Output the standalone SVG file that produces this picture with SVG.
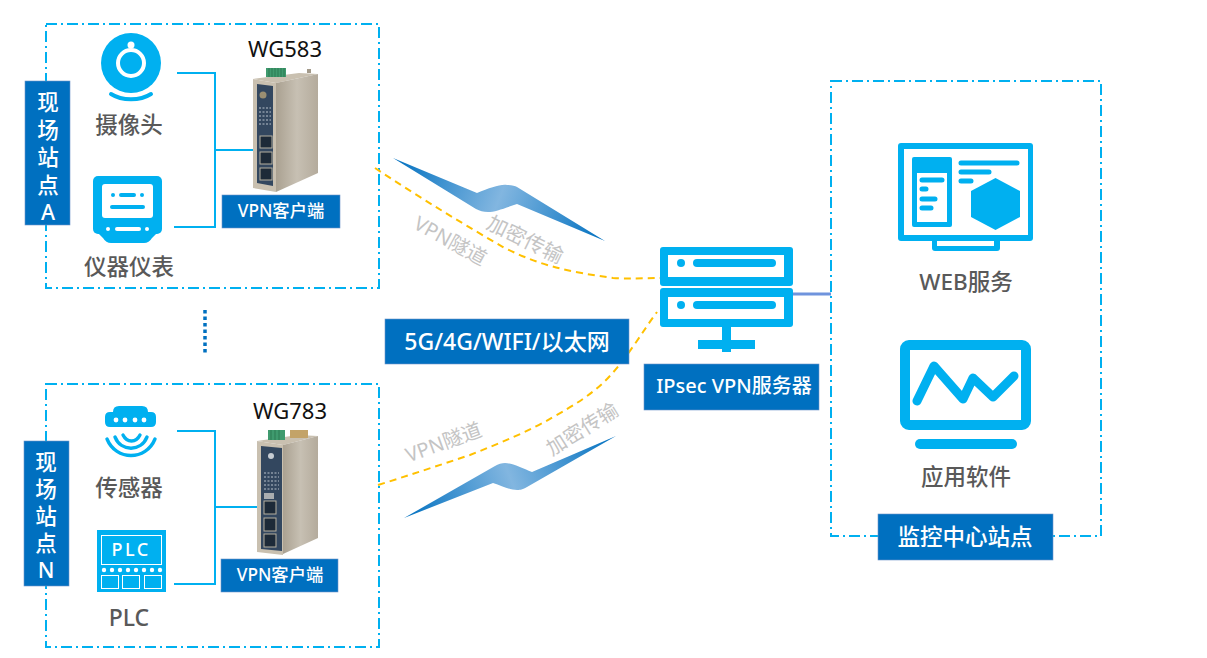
<svg xmlns="http://www.w3.org/2000/svg" width="1207" height="658" viewBox="0 0 1207 658">
<style>
text{font-family:"Noto Sans","Noto Sans CJK SC",sans-serif}
.zone{fill:none;stroke:#00b0f0;stroke-width:2;stroke-dasharray:11 4 2 4}
.label{fill:#0070c0;stroke:#6f94c8;stroke-width:.6}
.w{fill:#fff;text-anchor:middle;font-weight:500}
.g{fill:#595959;text-anchor:middle;font-weight:500}
.k{fill:#111;text-anchor:middle;font-size:22px}
.t{fill:#c4c4c4;text-anchor:middle}
.i{fill:#00b0f0}
.wf{fill:#fff}
.ws{stroke:#fff;fill:none;stroke-linecap:round}
.is{stroke:#00b0f0;fill:none;stroke-linecap:round}
.link{fill:none;stroke:#00b0f0;stroke-width:2}
.tunnel{fill:none;stroke:#ffc000;stroke-width:2;stroke-dasharray:7 5}
.beige{fill:#c9c0b0}
.navy{fill:#33475f}
.port{fill:#1d2a38;stroke:#b6b0a0;stroke-width:1}
.tiny{stroke:#b9c2cc;stroke-width:1;fill:none;stroke-dasharray:2 1.5}
</style>
<defs>
<linearGradient id="bolt1" gradientUnits="userSpaceOnUse" x1="393" y1="158" x2="605" y2="241">
<stop offset="0" stop-color="#0070c0"/><stop offset=".5" stop-color="#82b6e0"/><stop offset="1" stop-color="#0070c0"/>
</linearGradient>
<linearGradient id="bolt2" gradientUnits="userSpaceOnUse" x1="404" y1="518" x2="616" y2="436">
<stop offset="0" stop-color="#0070c0"/><stop offset=".5" stop-color="#82b6e0"/><stop offset="1" stop-color="#0070c0"/>
</linearGradient>
<linearGradient id="side" x1="0" y1="0" x2="1" y2="0">
<stop offset="0" stop-color="#aaa191"/><stop offset=".5" stop-color="#c7c0b3"/><stop offset="1" stop-color="#b4ab9c"/>
</linearGradient>
</defs>

<g id="zones">
<rect class="zone" x="46" y="24" width="333" height="264"/>
<rect class="zone" x="46" y="384" width="333" height="263"/>
<rect class="zone" x="831" y="81" width="270" height="455"/>
</g>

<g id="connectors">
<path class="link" d="M177 73H215V227H174M215 150H253"/>
<path class="link" d="M177 431H215V584H174M215 507H260"/>
<path d="M793 294H831" fill="none" stroke="#6f94dd" stroke-width="3"/>
<path class="tunnel" d="M375 168C420 198 470 228 503 247C540 266 570 272 613 278C630 279 645 278 660 278"/>
<path class="tunnel" d="M378 485C410 475 440 465 470 455C500 443 530 431 553 417C575 405 590 395 603 383C625 362 642 332 657 312"/>
<path d="M205 310V355" fill="none" stroke="#0070c0" stroke-width="3.5" stroke-dasharray="3.5 3"/>
</g>

<g id="bolt-top"><path d="M393 158L477 193C490 188 500 184 507 185C512 185 515 186 517 187L605 241L517 204C505 208 495 212 488 212C483 212 480 211 476 209Z" fill="url(#bolt1)"/></g>
<g id="bolt-bottom"><path d="M404 518L495 466C498 464 502 463 505 463C512 463 522 468 532 472L616 436L527 487C522 490 519 490 517 490C510 490 502 486 493 483Z" fill="url(#bolt2)"/></g>

<g id="site-a-label">
<rect class="label" x="25" y="81" width="45" height="144"/>
<text class="w" font-size="21.500"><tspan x="48" y="110">现</tspan><tspan x="48" y="137.500">场</tspan><tspan x="48" y="165">站</tspan><tspan x="48" y="192.500">点</tspan><tspan x="48" y="220">A</tspan></text>
</g>
<g id="site-n-label">
<rect class="label" x="24" y="441" width="45" height="145"/>
<text class="w" font-size="21.500"><tspan x="46" y="470">现</tspan><tspan x="46" y="497">场</tspan><tspan x="46" y="524">站</tspan><tspan x="46" y="551">点</tspan><tspan x="46" y="578">N</tspan></text>
</g>

<g id="camera">
<circle class="i" cx="131" cy="63" r="30"/>
<circle cx="131" cy="63" r="13" fill="none" stroke="#fff" stroke-width="4"/>
<circle class="wf" cx="131" cy="45" r="3.500"/>
<path class="is" stroke-width="4" d="M111 94C122 101 140 101 151 94"/>
<text class="g" x="129" y="133" font-size="22.500">摄像头</text>
</g>

<g id="meter">
<rect class="i" x="93" y="176" width="69" height="58" rx="5"/>
<path class="i" d="M97 232H158L152 238Q149 243 144 243H111Q106 243 103 238Z"/>
<rect class="wf" x="102" y="184" width="51" height="34" rx="3"/>
<path class="is" stroke-width="4" d="M121 195H134M112 207H143"/>
<circle class="i" cx="113" cy="195" r="2"/><circle class="i" cx="142" cy="195" r="2"/>
<path class="ws" stroke-width="4" d="M117 229H139"/>
<circle class="wf" cx="108" cy="229" r="2"/><circle class="wf" cx="147" cy="229" r="2"/>
<text class="g" x="129" y="275" font-size="22.500">仪器仪表</text>
</g>

<g id="wg583">
<text class="k" x="285" y="57">WG583</text>
<path class="beige" d="M253 79L299 73L318 74L276 83Z"/>
<path d="M276 83L318 74V173L276 192Z" fill="url(#side)"/>
<path class="beige" d="M253 79L276 83V192L253 188Z"/>
<path class="navy" d="M257 84L273 86V186L257 183Z"/>
<rect x="266" y="68" width="20" height="9" fill="#3f9a6e"/>
<path d="M269 68V77M272 68V77M275 68V77M278 68V77M281 68V77M284 68V77" stroke="#2c7a52" stroke-width="1"/>
<rect x="307" y="69" width="4" height="4" fill="#a39a8a"/>
<circle cx="263" cy="95" r="3.500" fill="#9b8f72"/>
<path class="tiny" d="M259 108H271M259 112H271M259 116H271M259 120H271M259 124H271"/>
<rect class="port" x="260" y="136" width="12" height="12"/>
<rect class="port" x="260" y="152" width="12" height="12"/>
<rect class="port" x="260" y="168" width="12" height="12"/>
</g>
<g id="wg583-label">
<rect class="label" x="222" y="195" width="118" height="33"/>
<text class="w" x="281" y="217" font-size="17.300">VPN客户端</text>
</g>

<g id="sensor">
<path class="i" d="M113 412Q113 406 119 406H142Q148 406 148 412H151Q156 412 156 417V422Q156 427 151 427H110Q105 427 105 422V417Q105 412 110 412Z"/>
<g class="wf"><circle cx="116" cy="420" r="2.400"/><circle cx="125" cy="420" r="2.400"/><circle cx="135" cy="420" r="2.400"/><circle cx="144" cy="420" r="2.400"/></g>
<path class="is" stroke-width="3.400" d="M107 439C116 461 146 461 155 439M115 437C121 452 141 452 147 437M123 435C127 443 136 443 140 435"/>
<text class="g" x="129" y="496" font-size="22.500">传感器</text>
</g>

<g id="plc">
<rect class="i" x="97" y="530" width="69" height="62"/>
<rect x="101.500" y="535.500" width="60" height="29" fill="none" stroke="#fff" stroke-width="1"/>
<text x="131" y="556" fill="#fff" font-size="18" text-anchor="middle" letter-spacing="2.500" font-weight="500">PLC</text>
<g class="wf"><circle cx="104" cy="570" r="2.200"/><circle cx="112" cy="570" r="2.200"/><circle cx="120" cy="570" r="2.200"/><circle cx="128" cy="570" r="2.200"/><circle cx="136" cy="570" r="2.200"/><circle cx="144" cy="570" r="2.200"/><circle cx="152" cy="570" r="2.200"/><circle cx="160" cy="570" r="2.200"/></g>
<g fill="none" stroke="#fff" stroke-width="1"><rect x="101.500" y="575.500" width="17" height="13"/><rect x="122.500" y="575.500" width="17" height="13"/><rect x="144.500" y="575.500" width="17" height="13"/></g>
<text class="g" x="129" y="626" font-size="23">PLC</text>
</g>

<g id="wg783">
<text class="k" x="290" y="419">WG783</text>
<path class="beige" d="M257 441L298 435L318 436L283 445Z"/>
<path d="M283 445L318 436V538L283 554Z" fill="url(#side)"/>
<path class="beige" d="M257 441L283 445V555L257 552Z"/>
<path class="navy" d="M261 446L282 448V551L261 549Z"/>
<rect x="268" y="430" width="17" height="10" fill="#3f9a6e"/>
<path d="M271 430V440M275 430V440M279 430V440" stroke="#2c7a52" stroke-width="1"/>
<rect x="290" y="430" width="18" height="8" fill="#c3a368"/>
<circle cx="271" cy="456" r="3" fill="#c6ccd3"/>
<path class="tiny" d="M264 473H279M264 477H279M264 481H279M264 485H279M264 489H279"/>
<rect x="264" y="493" width="10" height="6" fill="#a9adb0"/>
<rect class="port" x="264" y="501" width="12" height="13"/>
<rect class="port" x="264" y="518" width="12" height="13"/>
<rect class="port" x="264" y="534" width="12" height="13"/>
</g>
<g id="wg783-label">
<rect class="label" x="221" y="559" width="117" height="33"/>
<text class="w" x="280" y="581" font-size="17.300">VPN客户端</text>
</g>

<g id="tunnel-labels">
<text class="t" font-size="20" transform="translate(447 247) rotate(29)">VPN隧道</text>
<text class="t" font-size="20.500" transform="translate(522 246) rotate(26)">加密传输</text>
<text class="t" font-size="20" transform="translate(446 449) rotate(-20)">VPN隧道</text>
<text class="t" font-size="20" transform="translate(586 435) rotate(-32)">加密传输</text>
</g>

<g id="network-label">
<rect class="label" x="385" y="319" width="244" height="45"/>
<text class="w" x="507" y="350" font-size="23">5G/4G/WIFI/以太网</text>
</g>

<g id="vpn-server">
<rect class="i" x="660" y="247" width="133" height="39" rx="3"/>
<rect class="i" x="660" y="288" width="133" height="39" rx="3"/>
<rect class="wf" x="668" y="255" width="116" height="22"/>
<rect class="wf" x="668" y="297" width="116" height="22"/>
<circle class="i" cx="681" cy="263" r="4"/><circle class="i" cx="681" cy="305" r="4"/>
<rect class="i" x="693" y="259" width="83" height="8" rx="4"/>
<rect class="i" x="693" y="301" width="83" height="8" rx="4"/>
<rect class="i" x="722" y="327" width="9" height="25"/>
<rect class="i" x="698" y="340" width="57" height="9"/>
<rect class="label" x="644" y="364" width="175" height="46"/>
<text class="w" x="734" y="393" font-size="20">IPsec VPN服务器</text>
</g>

<g id="web-service">
<rect class="i" x="898" y="143" width="135" height="98" rx="3"/>
<rect class="wf" x="904" y="149" width="124" height="86"/>
<path class="i" d="M932 241H1000V248Q1000 251 997 251H935Q932 251 932 248Z"/>
<rect class="wf" x="937" y="241" width="57" height="5"/>
<rect class="i" x="912" y="157" width="40" height="70" rx="2"/>
<rect class="wf" x="917" y="173" width="30" height="49"/>
<path class="is" stroke-width="5" d="M922 180H942M922 189H926M922 199H935M922 208H931M961 163H1017M961 172H989M961 181H971"/>
<path class="i" d="M995.500 178L1020 191V217L995.500 230L971 217V191Z"/>
<text class="g" x="966" y="290" font-size="22.500">WEB服务</text>
</g>

<g id="app-software">
<rect x="905" y="345" width="121" height="80" rx="4" fill="#fff" stroke="#00b0f0" stroke-width="10"/>
<path class="is" stroke-width="9" stroke-linejoin="round" d="M917 401L934 366L963 399L973 378L993 397L1014 376"/>
<rect class="i" x="915" y="439" width="102" height="10" rx="5"/>
<text class="g" x="966" y="485" font-size="22.500">应用软件</text>
</g>

<g id="center-label">
<rect class="label" x="878" y="514" width="175" height="46"/>
<text class="w" x="965" y="545" font-size="22.500">监控中心站点</text>
</g>
</svg>
